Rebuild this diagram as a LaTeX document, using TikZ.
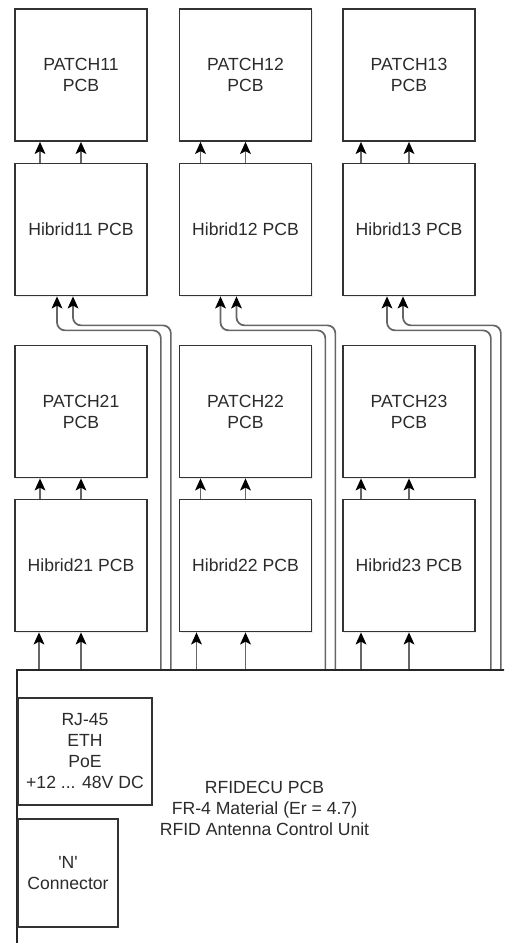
\documentclass[tikz,border=0pt]{standalone}
\usepackage{fontspec}
\setmainfont{Liberation Sans}
\usetikzlibrary{arrows.meta,calc,shadows}
\definecolor{Ink}{HTML}{2B2B2B}
\definecolor{Edge}{HTML}{333333}
\definecolor{Trace}{HTML}{666666}
\tikzset{
  pcb/.style={rectangle,draw=Edge,fill=white,line width=1.3pt,minimum width=99pt,minimum height=99pt,align=center,text=Ink,
              font=\fontsize{13.2}{15.75}\selectfont,drop shadow={shadow xshift=1.1pt,shadow yshift=-1.1pt,fill=black!14}},
  port/.style={pcb,inner sep=2pt},
  board/.style={rectangle,draw=black!85,line width=1.6pt,fill=white,align=center,text=Ink,font=\fontsize{13.2}{15.75}\selectfont},
  sig/.style={draw=Trace,line width=1.3pt,-{Stealth[length=9pt,width=8pt,inset=2pt,color=black]}},
  bus/.style={sig,rounded corners=6pt},
}
\begin{document}
\begin{tikzpicture}[x=.75pt,y=-.75pt]
\useasboundingbox (0,0) rectangle (504,943);
\clip (0,0) rectangle (504,943);
% Control unit board runs off the right and bottom edges.
\node[board,minimum width=371.25pt,minimum height=207pt] (ecu) at (264.5,808) {RFIDECU PCB\\FR-4 Material (Er = 4.7)\\RFID Antenna Control Unit};
\node[port,minimum width=100.5pt,minimum height=80.25pt] (rj) at (85,751.5) {RJ-45\\ETH\\PoE\\+12 ... 48V DC};
\node[port,minimum width=75pt,minimum height=81pt] (nconn) at (68,873) {\textquotesingle N\textquotesingle\\Connector};
\node[pcb] (p11) at (81,75) {PATCH11\\PCB}; \node[pcb] (p12) at (245.5,75) {PATCH12\\PCB}; \node[pcb] (p13) at (409,75) {PATCH13\\PCB};
\node[pcb] (h11) at (81,229.5) {Hibrid11 PCB}; \node[pcb] (h12) at (245.5,229.5) {Hibrid12 PCB}; \node[pcb] (h13) at (409,229.5) {Hibrid13 PCB};
\node[pcb] (p21) at (81,411.5) {PATCH21\\PCB}; \node[pcb] (p22) at (245.5,411.5) {PATCH22\\PCB}; \node[pcb] (p23) at (409,411.5) {PATCH23\\PCB};
\node[pcb] (h21) at (81,565.5) {Hibrid21 PCB}; \node[pcb] (h22) at (245.5,565.5) {Hibrid22 PCB}; \node[pcb] (h23) at (409,565.5) {Hibrid23 PCB};
% Hybrid outputs feed the patches above.
\draw[sig] ($(h11.north)+(-41,0)$) -- ($(p11.south)+(-41,0)$); \draw[sig] (h11.north) -- (p11.south);
\draw[sig] ($(h12.north)+(-45,0)$) -- ($(p12.south)+(-45,0)$); \draw[sig] (h12.north) -- (p12.south);
\draw[sig] ($(h13.north)+(-48,0)$) -- ($(p13.south)+(-48,0)$); \draw[sig] (h13.north) -- (p13.south);
\draw[sig] ($(h21.north)+(-41,0)$) -- ($(p21.south)+(-41,0)$); \draw[sig] (h21.north) -- (p21.south);
\draw[sig] ($(h22.north)+(-45,0)$) -- ($(p22.south)+(-45,0)$); \draw[sig] (h22.north) -- (p22.south);
\draw[sig] ($(h23.north)+(-48,0)$) -- ($(p23.south)+(-48,0)$); \draw[sig] (h23.north) -- (p23.south);
% Lower row is fed straight from the board.
\draw[sig] ($(h21.south |- ecu.north)+(-42,0)$) -- ($(h21.south)+(-42,0)$); \draw[sig] (h21.south |- ecu.north) -- (h21.south);
\draw[sig] ($(h22.south |- ecu.north)+(-49,0)$) -- ($(h22.south)+(-49,0)$); \draw[sig] (h22.south |- ecu.north) -- (h22.south);
\draw[sig] ($(h23.south |- ecu.north)+(-48,0)$) -- ($(h23.south)+(-48,0)$); \draw[sig] (h23.south |- ecu.north) -- (h23.south);
% Upper row is fed through paired traces along the right of each column.
\draw[bus] ($(h11.south east |- ecu.north)+(13,0)$) |- ($(h11.south)+(-24,34)$) -- ($(h11.south)+(-24,0)$);
\draw[bus] ($(h11.south east |- ecu.north)+(23,0)$) |- ($(h11.south)+(-8,29)$) -- ($(h11.south)+(-8,0)$);
\draw[bus] ($(h12.south east |- ecu.north)+(13,0)$) |- ($(h12.south)+(-25,34)$) -- ($(h12.south)+(-25,0)$);
\draw[bus] ($(h12.south east |- ecu.north)+(23,0)$) |- ($(h12.south)+(-9,29)$) -- ($(h12.south)+(-9,0)$);
\draw[bus] ($(h13.south east |- ecu.north)+(15,0)$) |- ($(h13.south)+(-22,34)$) -- ($(h13.south)+(-22,0)$);
\draw[bus] ($(h13.south east |- ecu.north)+(25,0)$) |- ($(h13.south)+(-6,29)$) -- ($(h13.south)+(-6,0)$);
\end{tikzpicture}
\end{document}
